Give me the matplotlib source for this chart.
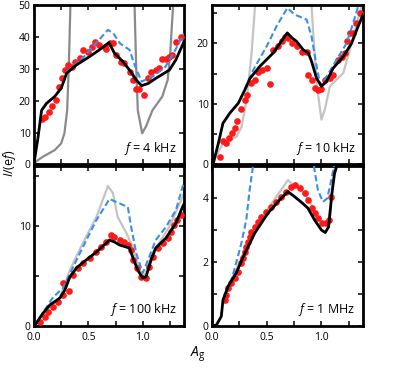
import matplotlib
matplotlib.use("Agg")
import matplotlib.pyplot as plt
from matplotlib.ticker import MultipleLocator

plt.rcParams['font.family'] = ['Open Sans', 'DejaVu Sans']
plt.rcParams['mathtext.fontset'] = 'custom'
plt.rcParams['mathtext.rm'] = 'Open Sans'
plt.rcParams['mathtext.it'] = 'Open Sans:italic'

RED = '#ff1a1a'
BLUE = '#3a8ee6'
DARKGRAY = '#8a8a8a'
LIGHTGRAY = '#c4c4c4'

# ---------------- f = 4 kHz ----------------
x_4k_black = [0.0, 0.035, 0.07, 0.116, 0.19, 0.25, 0.30, 0.39, 0.51, 0.60, 0.69, 0.71, 0.74,
              0.82, 0.89, 0.94, 0.99, 1.05, 1.12, 1.245, 1.305, 1.38]
y_4k_black = [0.5, 8.0, 17.0, 19.2, 21.3, 23.9, 28.6, 31.2, 33.8, 35.9, 38.2, 36.9, 34.9,
              32.2, 29.1, 26.5, 24.7, 25.4, 27.0, 29.6, 32.8, 38.5]
x_4k_blue = [0.30, 0.39, 0.46, 0.57, 0.68, 0.73, 0.79, 0.88, 0.92, 0.99, 1.09, 1.21, 1.30, 1.38]
y_4k_blue = [29.0, 31.8, 33.8, 38.0, 42.2, 41.1, 38.0, 35.9, 31.7, 26.0, 27.5, 30.7, 35.9, 41.0]
x_4k_gray = [0.0, 0.08, 0.19, 0.25, 0.28, 0.305, 0.32, 0.335, 0.345,
             0.915, 0.925, 0.94, 0.955, 0.995, 1.03, 1.09, 1.18, 1.23, 1.255, 1.28, 1.29]
y_4k_gray = [0.5, 2.4, 4.5, 6.6, 9.8, 17.0, 30.7, 50.0, 60.0,
             60.0, 50.0, 30.7, 17.0, 9.8, 11.9, 17.0, 21.3, 26.5, 35.9, 50.0, 60.0]
x_4k_dots = [0.07, 0.10, 0.14, 0.17, 0.20, 0.226, 0.253, 0.284, 0.314, 0.345, 0.375, 0.42,
             0.45, 0.50, 0.53, 0.56, 0.60, 0.65, 0.665, 0.695, 0.725, 0.757, 0.80, 0.83,
             0.88, 0.91, 0.94, 0.97, 1.015, 1.046, 1.077, 1.12, 1.15, 1.18, 1.21, 1.24,
             1.27, 1.31, 1.35]
y_4k_dots = [14.3, 15.0, 16.4, 18.3, 20.2, 24.4, 27.2, 29.6, 31.2, 30.7, 32.2, 33.3,
             35.9, 35.4, 36.9, 38.5, 37.5, 36.9, 36.1, 38.0, 38.0, 34.3, 32.2, 31.7,
             29.1, 26.5, 23.6, 23.6, 21.8, 27.0, 29.1, 29.6, 30.2, 33.0, 33.0, 33.8,
             34.3, 38.5, 40.1]

# ---------------- f = 10 kHz ----------------
x_10k_black = [0.0, 0.012, 0.058, 0.10, 0.164, 0.24, 0.30, 0.347, 0.438, 0.56, 0.688, 0.73,
               0.773, 0.834, 0.88, 0.91, 0.956, 1.0, 1.047, 1.108, 1.2, 1.276, 1.336, 1.38]
y_10k_black = [0.0, 0.2, 3.5, 6.8, 8.5, 10.1, 12.3, 14.2, 16.2, 18.4, 21.7, 20.9,
               20.3, 18.9, 18.4, 17.0, 14.2, 12.9, 13.7, 15.9, 17.8, 20.0, 22.8, 24.7]
x_10k_blue = [0.30, 0.377, 0.50, 0.59, 0.688, 0.758, 0.865, 0.91, 0.956, 0.99, 1.047,
              1.14, 1.23, 1.29, 1.336, 1.36]
y_10k_blue = [12.4, 15.6, 19.5, 22.8, 25.8, 24.7, 23.9, 21.1, 16.2, 13.1, 14.5,
              17.3, 20.0, 23.3, 26.1, 28.0]
x_10k_gray = [0.0, 0.10, 0.225, 0.27, 0.317, 0.362, 0.393, 0.41,
              0.90, 0.91, 0.925, 0.956, 1.0, 1.03, 1.078, 1.2, 1.26, 1.306, 1.35, 1.38]
y_10k_gray = [0.0, 3.5, 4.6, 6.2, 10.7, 18.4, 26.1, 32.0,
              32.0, 26.1, 21.7, 13.4, 7.4, 9.0, 12.9, 15.1, 18.9, 22.2, 25.0, 27.0]
x_10k_dots = [0.073, 0.103, 0.128, 0.158, 0.18, 0.21, 0.231, 0.262, 0.30, 0.317, 0.353,
              0.393, 0.423, 0.453, 0.50, 0.53, 0.56, 0.605, 0.636, 0.667, 0.697, 0.728,
              0.773, 0.82, 0.865, 0.88, 0.91, 0.94, 0.97, 1.0, 1.03, 1.078, 1.108,
              1.153, 1.184, 1.215, 1.23, 1.26, 1.29, 1.32, 1.35]
y_10k_dots = [1.3, 3.8, 3.6, 4.3, 5.2, 6.0, 7.1, 9.1, 10.7, 11.5, 13.4,
              14.0, 15.2, 15.6, 15.9, 13.3, 18.9, 19.5, 20.3, 21.1, 20.9, 20.0,
              19.5, 18.6, 18.5, 14.8, 14.0, 12.6, 12.3, 12.4, 14.0, 14.2, 14.8,
              17.3, 17.8, 18.4, 20.3, 21.7, 21.7, 23.3, 25.0]

# ---------------- f = 100 kHz ----------------
x_100k_black = [0.0, 0.01, 0.085, 0.146, 0.238, 0.284, 0.33, 0.39, 0.48, 0.574, 0.695, 0.74,
                0.787, 0.878, 0.908, 0.954, 1.0, 1.03, 1.077, 1.12, 1.214, 1.306, 1.366, 1.38]
y_100k_black = [0.0, 0.1, 1.3, 2.1, 2.8, 3.6, 4.9, 5.8, 6.6, 7.4, 8.6, 8.4,
                8.1, 7.8, 6.9, 5.6, 4.8, 4.9, 6.6, 7.8, 8.8, 10.3, 11.9, 12.2]
x_100k_blue = [0.0, 0.085, 0.177, 0.268, 0.36, 0.45, 0.574, 0.695, 0.757, 0.863, 0.894,
               0.94, 1.0, 1.06, 1.12, 1.214, 1.306, 1.366, 1.38]
y_100k_blue = [0.0, 1.4, 2.9, 3.8, 5.9, 7.9, 10.6, 12.7, 12.4, 11.9, 9.9,
               7.3, 5.3, 6.9, 8.6, 9.9, 11.6, 13.9, 14.3]
x_100k_gray = [0.0, 0.085, 0.238, 0.33, 0.45, 0.574, 0.68, 0.726, 0.77, 0.85, 0.908,
               0.97, 1.01, 1.09, 1.244, 1.366, 1.38]
y_100k_gray = [0.0, 1.3, 2.8, 5.6, 8.3, 10.9, 14.0, 13.3, 10.9, 9.3, 7.9,
               5.6, 4.8, 7.3, 9.9, 12.9, 13.3]
x_100k_dots = [0.055, 0.10, 0.131, 0.177, 0.223, 0.268, 0.268, 0.32, 0.36, 0.405, 0.45,
               0.512, 0.574, 0.62, 0.665, 0.71, 0.74, 0.787, 0.832, 0.863, 0.894,
               0.915, 0.945, 0.985, 1.03, 1.06, 1.098, 1.137, 1.183, 1.23, 1.26,
               1.29, 1.32, 1.35]
y_100k_dots = [0.4, 0.9, 1.4, 1.9, 2.4, 3.1, 4.3, 3.5, 5.1, 5.8, 6.3,
               6.8, 7.4, 7.9, 8.4, 9.1, 8.9, 8.6, 8.4, 8.1, 7.6,
               6.6, 5.8, 4.9, 4.8, 5.9, 6.9, 7.8, 8.3, 8.8, 9.4,
               10.1, 10.6, 11.1]

# ---------------- f = 1 MHz ----------------
x_1m_black = [0.0, 0.04, 0.085, 0.10, 0.146, 0.22, 0.30, 0.39, 0.51, 0.618, 0.694, 0.755,
              0.83, 0.877, 0.938, 1.0, 1.035, 1.066, 1.096, 1.12, 1.15]
y_1m_black = [0.0, 0.03, 0.3, 0.8, 1.23, 1.65, 2.27, 2.9, 3.52, 3.94, 4.2, 4.04,
              3.83, 3.68, 3.31, 3.0, 2.92, 3.1, 4.15, 4.77, 5.1]
x_1m_blue = [0.10, 0.177, 0.22, 0.268, 0.313, 0.344, 0.374, 0.39,
             0.92, 0.932, 0.968, 1.014, 1.053, 1.084, 1.114, 1.13]
y_1m_blue = [0.8, 1.44, 1.96, 2.58, 3.31, 4.25, 4.98, 5.3,
             5.3, 4.98, 4.25, 3.88, 3.99, 4.46, 4.98, 5.3]
x_1m_gray = [0.10, 0.146, 0.22, 0.30, 0.40, 0.50, 0.60, 0.694, 0.75, 0.80, 0.85,
             0.90, 0.95, 1.00, 1.045, 1.07, 1.10, 1.13]
y_1m_gray = [0.8, 1.25, 1.75, 2.4, 3.05, 3.6, 4.1, 4.56, 4.38, 4.28, 4.13,
             3.85, 3.48, 3.22, 3.2, 3.4, 4.2, 5.3]
x_1m_dots = [0.116, 0.131, 0.146, 0.177, 0.207, 0.237, 0.268, 0.283, 0.298, 0.313, 0.329,
             0.344, 0.359, 0.39, 0.42, 0.45, 0.496, 0.542, 0.587, 0.633, 0.679,
             0.724, 0.761, 0.80, 0.847, 0.877, 0.913, 0.938, 0.968, 1.005, 1.044,
             1.066, 1.09]
y_1m_dots = [0.81, 0.97, 1.18, 1.33, 1.49, 1.70, 1.96, 2.11, 2.32, 2.48, 2.63,
             2.79, 2.95, 3.10, 3.26, 3.42, 3.57, 3.73, 3.88, 4.04, 4.20,
             4.35, 4.41, 4.30, 4.15, 3.94, 3.68, 3.52, 3.37, 3.21, 3.21,
             3.31, 4.04]

panels = [
    # (axes rect, label, ylim, major, minor, gray colour, data...)
    ([34/407, 1-164.5/380, 150/407, 159.5/380], r'$f$ = 4 kHz', 50, 10, 10, DARKGRAY,
     (x_4k_gray, y_4k_gray), (x_4k_dots, y_4k_dots), (x_4k_blue, y_4k_blue), (x_4k_black, y_4k_black)),
    ([212/407, 1-164.5/380, 151/407, 159.5/380], r'$f$ = 10 kHz', 26.3, 10, 5, LIGHTGRAY,
     (x_10k_gray, y_10k_gray), (x_10k_dots, y_10k_dots), (x_10k_blue, y_10k_blue), (x_10k_black, y_10k_black)),
    ([34/407, 1-326/380, 150/407, 160/380], r'$f$ = 100 kHz', 16, 10, 5, LIGHTGRAY,
     (x_100k_gray, y_100k_gray), (x_100k_dots, y_100k_dots), (x_100k_blue, y_100k_blue), (x_100k_black, y_100k_black)),
    ([212/407, 1-326/380, 151/407, 160/380], r'$f$ = 1 MHz', 5.0, 2, 1, LIGHTGRAY,
     (x_1m_gray, y_1m_gray), (x_1m_dots, y_1m_dots), (x_1m_blue, y_1m_blue), (x_1m_black, y_1m_black)),
]

fig = plt.figure(figsize=(4.07, 3.80), dpi=100)

for i, (rect, label, ymax, major, minor, gcol, gray, dots, blue, black) in enumerate(panels):
    ax = fig.add_axes(rect)
    ax.plot(gray[0], gray[1], color=gcol, lw=1.6, zorder=2)
    ax.plot(dots[0], dots[1], 'o', color=RED, ms=4.8, mec='none', zorder=3)
    ax.plot(blue[0], blue[1], '--', color=BLUE, lw=1.5, dashes=(3, 1.5), zorder=4)
    ax.plot(black[0], black[1], color='black', lw=2.0, zorder=5)
    ax.set_xlim(0, 1.38)
    ax.set_ylim(0, ymax)
    ax.xaxis.set_major_locator(MultipleLocator(0.5))
    ax.xaxis.set_minor_locator(MultipleLocator(0.25))
    ax.yaxis.set_major_locator(MultipleLocator(major))
    ax.yaxis.set_minor_locator(MultipleLocator(minor))
    ax.tick_params(which='both', direction='in', top=True, right=True,
                   length=3.5, width=1.1, labelsize=7.5, pad=2.5)
    ax.tick_params(axis='x', pad=4)
    ax.xaxis.set_major_formatter(plt.FormatStrFormatter('%.1f'))
    if i < 2:
        ax.tick_params(labelbottom=False)
    for s in ax.spines.values():
        s.set_linewidth(2.0)
    ax.text(0.95, 0.05, label, transform=ax.transAxes, ha='right', va='bottom',
            fontsize=9)

fig.text(10/407, 1-163/380, r'$I$/(e$f$)', rotation=90, ha='center', va='center', fontsize=9)
fig.text(198/407, 1-354/380, r'$A_{\mathrm{g}}$', ha='center', va='center', fontsize=10)

fig.savefig('out.png', dpi=100)
